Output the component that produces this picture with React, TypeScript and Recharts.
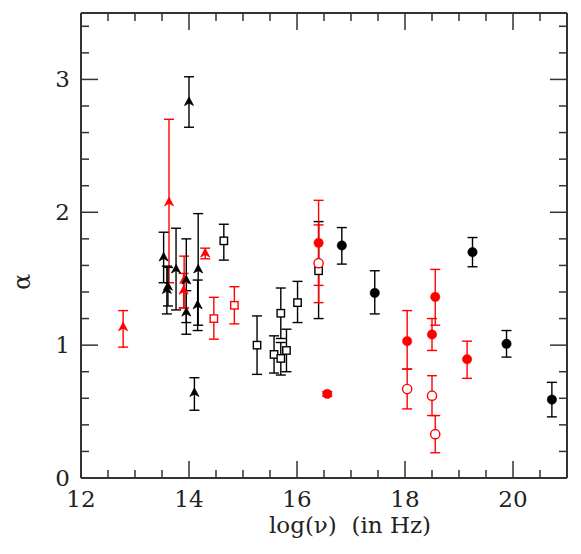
import React from 'react';
import { ScatterChart, Scatter, XAxis, YAxis, ErrorBar } from 'recharts';

// Each point: x = log(nu), y = alpha, lo / hi = ends of the error bar
type P = { x: number; y: number; lo: number; hi: number };

const redTriangles: P[] = [
  { x: 12.78, y: 1.135, lo: 0.985, hi: 1.26 },
  { x: 13.63, y: 2.075, lo: 1.47, hi: 2.7 },
  { x: 13.91, y: 1.49, lo: 1.28, hi: 1.67 },
  { x: 13.9, y: 1.41, lo: 1.28, hi: 1.54 },
  { x: 14.3, y: 1.69, lo: 1.65, hi: 1.73 },
];

const blackTriangles: P[] = [
  { x: 14.0, y: 2.83, lo: 2.64, hi: 3.02 },
  { x: 14.1, y: 0.64, lo: 0.51, hi: 0.755 },
  { x: 13.53, y: 1.66, lo: 1.47, hi: 1.85 },
  { x: 13.61, y: 1.44, lo: 1.295, hi: 1.585 },
  { x: 13.59, y: 1.415, lo: 1.235, hi: 1.595 },
  { x: 13.76, y: 1.57, lo: 1.265, hi: 1.88 },
  { x: 13.95, y: 1.487, lo: 1.17, hi: 1.8 },
  { x: 13.95, y: 1.245, lo: 1.082, hi: 1.41 },
  { x: 14.17, y: 1.57, lo: 1.15, hi: 1.99 },
  { x: 14.16, y: 1.3, lo: 1.11, hi: 1.49 },
];

const redSquares: P[] = [
  { x: 14.46, y: 1.2, lo: 1.045, hi: 1.36 },
  { x: 14.84, y: 1.3, lo: 1.16, hi: 1.44 },
];

const blackSquares: P[] = [
  { x: 14.645, y: 1.785, lo: 1.64, hi: 1.91 },
  { x: 15.26, y: 1.0, lo: 0.78, hi: 1.22 },
  { x: 15.575, y: 0.93, lo: 0.79, hi: 1.07 },
  { x: 15.7, y: 1.24, lo: 1.05, hi: 1.43 },
  { x: 15.7, y: 0.9, lo: 0.775, hi: 1.02 },
  { x: 15.805, y: 0.96, lo: 0.8, hi: 1.12 },
  { x: 16.01, y: 1.32, lo: 1.17, hi: 1.48 },
  { x: 16.4, y: 1.56, lo: 1.2, hi: 1.93 },
];

const redFilled: P[] = [
  { x: 16.4, y: 1.77, lo: 1.45, hi: 2.09 },
  { x: 16.56, y: 0.633, lo: 0.615, hi: 0.65 },
  { x: 18.04, y: 1.03, lo: 0.82, hi: 1.26 },
  { x: 18.5, y: 1.08, lo: 0.96, hi: 1.2 },
  { x: 18.56, y: 1.363, lo: 1.15, hi: 1.57 },
  { x: 19.15, y: 0.894, lo: 0.75, hi: 1.03 },
];

const redOpen: P[] = [
  { x: 16.4, y: 1.617, lo: 1.32, hi: 1.905 },
  { x: 18.04, y: 0.67, lo: 0.52, hi: 0.82 },
  { x: 18.5, y: 0.62, lo: 0.47, hi: 0.77 },
  { x: 18.56, y: 0.33, lo: 0.19, hi: 0.47 },
];

const blackFilled: P[] = [
  { x: 16.83, y: 1.75, lo: 1.61, hi: 1.885 },
  { x: 17.44, y: 1.393, lo: 1.235, hi: 1.56 },
  { x: 19.25, y: 1.7, lo: 1.59, hi: 1.81 },
  { x: 19.88, y: 1.01, lo: 0.91, hi: 1.11 },
  { x: 20.72, y: 0.59, lo: 0.46, hi: 0.72 },
];

const xTicks = [12, 12.5, 13, 13.5, 14, 14.5, 15, 15.5, 16, 16.5, 17, 17.5, 18, 18.5, 19, 19.5, 20, 20.5];
const xLabels = [12, 14, 16, 18, 20];
const yTicks = [0, 0.2, 0.4, 0.6, 0.8, 1, 1.2, 1.4, 1.6, 1.8, 2, 2.2, 2.4, 2.6, 2.8, 3, 3.2, 3.4];
const yLabels = [0, 1, 2, 3];

const RED = '#ff0000';
const BLACK = '#000000';
const AXIS = '#333333';
const FONT = '"DejaVu Serif", "Liberation Serif", serif';

const withErr = (arr: P[]) => arr.map((p) => ({ ...p, err: [p.y - p.lo, p.hi - p.y] }));

const isLabel = (v: number, list: number[]) => list.some((l) => Math.abs(l - v) < 1e-6);

const BottomTick = (props: any) => {
  const { x, y, payload } = props;
  const v = payload.value;
  const major = isLabel(v, xLabels);
  return (
    <g>
      <line x1={x} x2={x} y1={y} y2={y - (major ? 17 : 8)} stroke={AXIS} strokeWidth={1.5} />
      {major ? (
        <text x={x} y={y + 29} textAnchor="middle" fontFamily={FONT} fontSize={23} fill="#222">
          {v}
        </text>
      ) : null}
    </g>
  );
};

const TopTick = (props: any) => {
  const { x, y, payload } = props;
  const major = isLabel(payload.value, xLabels);
  return <line x1={x} x2={x} y1={y} y2={y + (major ? 17 : 8)} stroke={AXIS} strokeWidth={1.5} />;
};

const LeftTick = (props: any) => {
  const { x, y, payload } = props;
  const v = payload.value;
  const major = isLabel(v, yLabels);
  return (
    <g>
      <line x1={x} x2={x + (major ? 17 : 8)} y1={y} y2={y} stroke={AXIS} strokeWidth={1.5} />
      {major ? (
        <text x={x - 11} y={y + 8} textAnchor="end" fontFamily={FONT} fontSize={23} fill="#222">
          {v}
        </text>
      ) : null}
    </g>
  );
};

const RightTick = (props: any) => {
  const { x, y, payload } = props;
  const major = isLabel(payload.value, yLabels);
  return <line x1={x} x2={x - (major ? 17 : 8)} y1={y} y2={y} stroke={AXIS} strokeWidth={1.5} />;
};

const triangle = (color: string) => (props: any) => {
  const { cx, cy } = props;
  if (cx == null || cy == null) return <g />;
  return (
    <path
      d={`M${cx},${cy - 5} L${cx + 4.5},${cy + 3.5} L${cx},${cy + 1} L${cx - 4.5},${cy + 3.5} Z`}
      fill={color}
      stroke={color}
      strokeWidth={0.8}
      strokeLinejoin="round"
    />
  );
};

const square = (color: string) => (props: any) => {
  const { cx, cy } = props;
  if (cx == null || cy == null) return <g />;
  return <rect x={cx - 3.7} y={cy - 3.7} width={7.4} height={7.4} fill="#ffffff" stroke={color} strokeWidth={1.4} />;
};

const filledCircle = (color: string) => (props: any) => {
  const { cx, cy } = props;
  if (cx == null || cy == null) return <g />;
  return <circle cx={cx} cy={cy} r={4.7} fill={color} stroke={color} strokeWidth={0.5} />;
};

const openCircle = (color: string) => (props: any) => {
  const { cx, cy } = props;
  if (cx == null || cy == null) return <g />;
  return <circle cx={cx} cy={cy} r={4.6} fill="#ffffff" stroke={color} strokeWidth={1.4} />;
};

const series = [
  { name: 'redTriangles', data: redTriangles, color: RED, shape: triangle(RED) },
  { name: 'blackTriangles', data: blackTriangles, color: BLACK, shape: triangle(BLACK) },
  { name: 'redSquares', data: redSquares, color: RED, shape: square(RED) },
  { name: 'blackSquares', data: blackSquares, color: BLACK, shape: square(BLACK) },
  { name: 'redOpen', data: redOpen, color: RED, shape: openCircle(RED) },
  { name: 'redFilled', data: redFilled, color: RED, shape: filledCircle(RED) },
  { name: 'blackFilled', data: blackFilled, color: BLACK, shape: filledCircle(BLACK) },
];

const XTitle = (props: any) => {
  const vb = props.viewBox || { x: 81, y: 478, width: 486 };
  return (
    <text x={vb.x + vb.width / 2 + 26} y={vb.y + 55} textAnchor="middle" fontFamily={FONT} fontSize={23} fill="#222">
      {'log(ν)\u00A0\u00A0(in\u00A0Hz)'}
    </text>
  );
};

const YTitle = () => (
  <text x={30} y={282} transform="rotate(-90 30 282)" textAnchor="middle" fontFamily={FONT} fontSize={24} fill="#222">
    α
  </text>
);

export default function App() {
  return (
    <div style={{ position: 'absolute', left: 0, top: 0, background: '#fff' }}>
      <ScatterChart width={581} height={554} margin={{ top: 12, right: 13, bottom: 0, left: 0 }}>
        <XAxis
          xAxisId="b"
          dataKey="x"
          type="number"
          domain={[12, 21]}
          ticks={xTicks}
          interval={0}
          allowDataOverflow
          height={76}
          tickSize={0}
          tickMargin={0}
          tickLine={false}
          axisLine={{ stroke: AXIS, strokeWidth: 2 }}
          tick={<BottomTick />}
          label={<XTitle />}
        />
        <XAxis
          xAxisId="t"
          orientation="top"
          dataKey="x"
          type="number"
          domain={[12, 21]}
          ticks={xTicks}
          interval={0}
          allowDataOverflow
          height={1}
          tickSize={0}
          tickMargin={0}
          tickLine={false}
          axisLine={{ stroke: AXIS, strokeWidth: 2 }}
          tick={<TopTick />}
        />
        <YAxis
          yAxisId="l"
          dataKey="y"
          type="number"
          domain={[0, 3.5]}
          ticks={yTicks}
          interval={0}
          allowDataOverflow
          width={81}
          tickSize={0}
          tickMargin={0}
          tickLine={false}
          axisLine={{ stroke: AXIS, strokeWidth: 2 }}
          tick={<LeftTick />}
          label={<YTitle />}
        />
        <YAxis
          yAxisId="r"
          orientation="right"
          dataKey="y"
          type="number"
          domain={[0, 3.5]}
          ticks={yTicks}
          interval={0}
          allowDataOverflow
          width={1}
          tickSize={0}
          tickMargin={0}
          tickLine={false}
          axisLine={{ stroke: AXIS, strokeWidth: 2 }}
          tick={<RightTick />}
        />
        <Scatter
          name="frame"
          data={[]}
          xAxisId="t"
          yAxisId="r"
          dataKey="y"
          isAnimationActive={false}
        />
        {series.map((s) => (
          <Scatter
            key={s.name}
            name={s.name}
            data={withErr(s.data)}
            xAxisId="b"
            yAxisId="l"
            dataKey="y"
            fill={s.color}
            shape={s.shape}
            isAnimationActive={false}
          >
            <ErrorBar dataKey="err" direction="y" width={5} stroke={s.color} strokeWidth={1.4} isAnimationActive={false} />
          </Scatter>
        ))}
      </ScatterChart>
    </div>
  );
}
